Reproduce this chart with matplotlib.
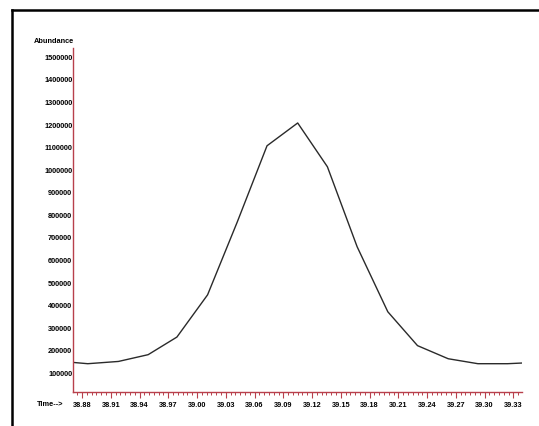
import numpy as np
import matplotlib
matplotlib.use("Agg")
import matplotlib.pyplot as plt
from matplotlib.lines import Line2D
from matplotlib.ticker import MultipleLocator

plt.rcParams['font.family'] = ['Liberation Sans', 'DejaVu Sans']

# chromatogram trace (time in min, abundance)
timeMin = [38.8706, 38.886, 38.918, 38.949, 38.979, 39.011, 39.042, 39.073,
           39.105, 39.136, 39.167, 39.199, 39.230, 39.262, 39.293, 39.324,
           39.339]
abundance = [148700, 143000, 153000, 183000, 261000, 448000, 771000, 1108000,
             1209000, 1015000, 661000, 373000, 223000, 165000, 143000, 143000,
             146000]

yTicks = [100000, 200000, 300000, 400000, 500000, 600000, 700000, 800000,
          900000, 1000000, 1100000, 1200000, 1300000, 1400000, 1500000]
xTicks = [38.88, 38.91, 38.94, 38.97, 39.00, 39.03, 39.06, 39.09, 39.12,
          39.15, 39.18, 39.21, 39.24, 39.27, 39.30, 39.33]
xTickLabels = ["38.88", "38.91", "38.94", "38.97", "39.00", "39.03", "39.06",
               "39.09", "39.12", "39.15", "39.18", "30.21", "39.24", "39.27",
               "39.30", "39.33"]

axisColor = '#b8404c'

fig = plt.figure(figsize=(5.39, 4.26), dpi=100)
ax = fig.add_axes([73/539, 1-392/426, (522-73)/539, (392-48)/426])
ax.plot(timeMin, abundance, color='#2a2a2a', linewidth=1.0)
ax.set_xlim(38.8706, 39.339)
ax.set_ylim(17700, 1541000)

for s in ['top', 'right']:
    ax.spines[s].set_visible(False)
for s in ['left', 'bottom']:
    ax.spines[s].set_color(axisColor)
    ax.spines[s].set_linewidth(1.0)

ax.set_yticks(yTicks)
ax.set_yticklabels([str(v) for v in yTicks], fontweight='bold')
ax.tick_params(axis='y', length=0, pad=0.5, labelsize=5.3)
ax.set_xticks(xTicks)
ax.set_xticklabels(xTickLabels, fontweight='bold')
ax.xaxis.set_minor_locator(MultipleLocator(0.005))
ax.tick_params(axis='x', which='major', length=4, width=0.8,
               color=axisColor, pad=3, labelsize=5.3)
ax.tick_params(axis='x', which='minor', length=2.5, width=0.7,
               color=axisColor)

fig.text(74/539, 1-41.5/426, "Abundance", ha='right', va='center',
         fontsize=5.3, fontweight='bold')
fig.text(37/539, 1-404/426, "Time-->", ha='left', va='center',
         fontsize=5.3, fontweight='bold')

# outer frame, only left and top edges fall inside the image
fig.add_artist(Line2D([12/539, 12/539], [0, 1-10/426], color='black',
                      linewidth=1.8, transform=fig.transFigure))
fig.add_artist(Line2D([12/539, 1], [1-10/426, 1-10/426], color='black',
                      linewidth=1.8, transform=fig.transFigure))

fig.savefig("out.png", dpi=100)
